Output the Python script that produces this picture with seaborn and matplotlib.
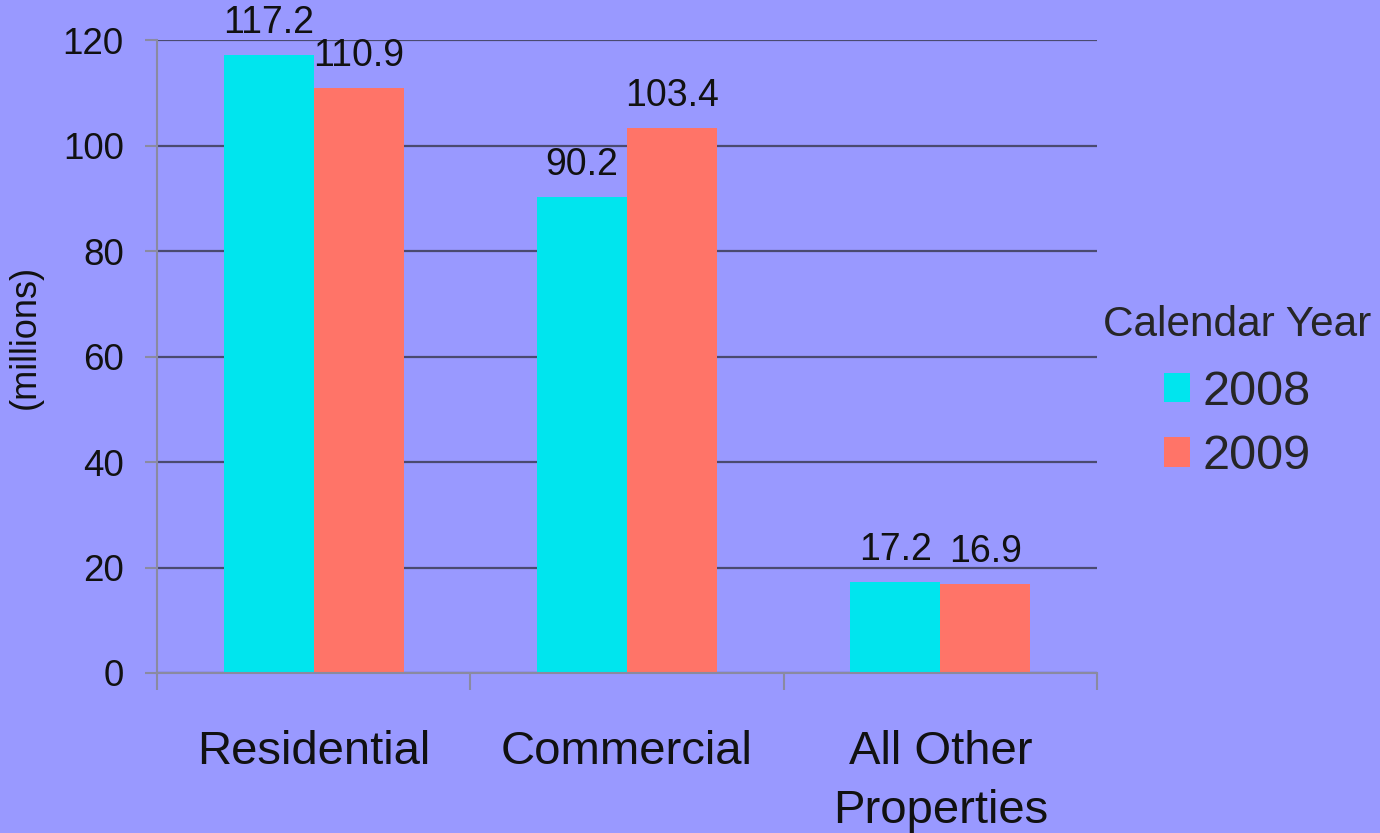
import matplotlib
matplotlib.use("Agg")
import matplotlib.pyplot as plt
import seaborn as sns
import pandas as pd
from matplotlib.ticker import FixedLocator

categories = ["Residential", "Commercial", "All Other\nProperties"]
years = ["2008", "2009"]
values_2008 = [117.2, 90.2, 17.2]
values_2009 = [110.9, 103.4, 16.9]
y_ticks = [0, 20, 40, 60, 80, 100, 120]

bg = "#9999FF"
colors = ["#00E5EE", "#FF7468"]

sns.set_theme(style="white")
plt.rcParams['font.family'] = ['Liberation Sans', 'DejaVu Sans']

df = pd.DataFrame({
    "category": categories * 2,
    "year": [years[0]] * 3 + [years[1]] * 3,
    "value": values_2008 + values_2009,
})

fig = plt.figure(figsize=(13.8, 8.33), dpi=100, facecolor=bg)
ax = fig.add_axes([157/1380, 1 - 673/833, (1097 - 157)/1380, (673 - 40)/833])
ax.set_facecolor(bg)

sns.barplot(data=df, x="category", y="value", hue="year", order=categories,
            hue_order=years, palette=colors, width=0.575, saturation=1,
            linewidth=0, ax=ax, errorbar=None)

for cont in ax.containers:
    ax.bar_label(cont, fmt="%.1f", fontsize=27, padding=10, color="#111111")

ax.set_ylim(0, 120)
ax.set_xlim(-0.5, 2.5)
ax.set_yticks(y_ticks)
ax.yaxis.grid(True, color="#4a4a70", linewidth=1.6)
ax.set_axisbelow(True)

for s in ["top", "right"]:
    ax.spines[s].set_visible(False)
for s in ["left", "bottom"]:
    ax.spines[s].set_color("#8a8aa0")
    ax.spines[s].set_linewidth(1.5)

ax.tick_params(axis="y", labelsize=26.5, length=9, width=1.5, color="#8a8aa0",
               left=True, pad=15, labelcolor="#111111")
ax.tick_params(axis="x", which="major", length=0, labelsize=34, pad=41,
               labelcolor="#111111")
ax.xaxis.set_minor_locator(FixedLocator([-0.5, 0.5, 1.5, 2.5]))
ax.tick_params(axis="x", which="minor", length=12, width=1.5, color="#8a8aa0",
               bottom=True)
for lbl in ax.get_xticklabels():
    lbl.set_linespacing(1.45)

ax.set_xlabel("")
ax.set_ylabel("(millions)", fontsize=26, color="#111111")
ax.yaxis.set_label_coords(-0.122, (673 - 337) / 633)

leg = ax.legend(title="Calendar Year", loc="center left",
                bbox_to_anchor=(1103/1380, 1 - 392/833), bbox_transform=fig.transFigure,
                frameon=False, fontsize=35, title_fontsize=30.5,
                handlelength=0.55, handleheight=0.55, handletextpad=0.25,
                labelspacing=0.4, borderpad=0.0, borderaxespad=0.0)
leg._legend_box.align = "center"
leg._legend_box.sep = 18

fig.savefig("out.png", dpi=100, facecolor=bg)
